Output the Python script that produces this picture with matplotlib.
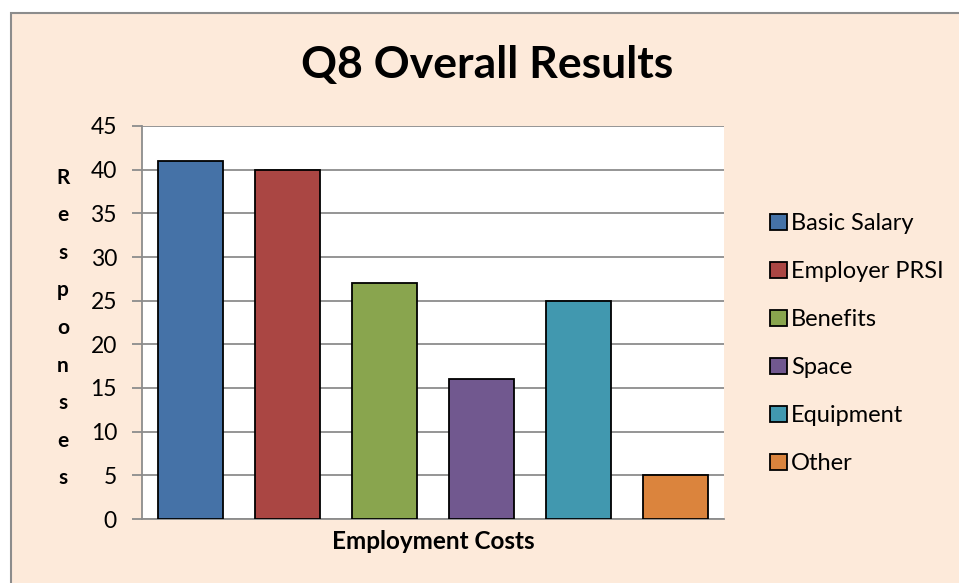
import matplotlib
matplotlib.use("Agg")
import matplotlib.pyplot as plt
from matplotlib.patches import Rectangle

categories = ["Basic Salary", "Employer PRSI", "Benefits", "Space", "Equipment", "Other"]
responses = [41, 40, 27, 16, 25, 5]
colors = ["#4572A7", "#AA4643", "#89A54E", "#71588F", "#4198AF", "#DB843D"]
yticks = [0, 5, 10, 15, 20, 25, 30, 35, 40, 45]

plt.rcParams["font.family"] = ["Lato", "DejaVu Sans"]

W, H = 959, 583
fig = plt.figure(figsize=(W / 100, H / 100), dpi=100)
fig.patch.set_facecolor("white")

# chart frame with peach fill
frame = Rectangle((11 / W, -0.1), 1.2, 1 - 13 / H + 0.1, transform=fig.transFigure,
                  facecolor="#FDEADA", edgecolor="#8C8C8C", linewidth=1.5, zorder=-10)
fig.patches.append(frame)

ax = fig.add_axes([142 / W, 1 - 519 / H, (724 - 142) / W, (519 - 126) / H])
ax.set_facecolor("white")

x = list(range(len(categories)))
bars = ax.bar(x, responses, width=0.67, color=colors, edgecolor="black",
              linewidth=1.3, zorder=3, label=categories)

ax.set_xlim(-0.5, len(categories) - 0.5)
ax.set_ylim(0, 45)
ax.set_yticks(yticks)
ax.set_yticklabels([str(v) for v in yticks], fontsize=16.5)
ax.set_xticks([])
ax.grid(axis="y", color="#8C8C8C", linewidth=1.3, zorder=0)
ax.tick_params(axis="y", length=7, width=1.3, color="#8C8C8C", pad=11)
for s in ["top", "right"]:
    ax.spines[s].set_visible(False)
for s in ["left", "bottom"]:
    ax.spines[s].set_color("#8C8C8C")
    ax.spines[s].set_linewidth(1.3)

ax.set_xlabel("Employment Costs", fontsize=17.5, fontweight="bold", labelpad=8)

fig.text(487 / W, 1 - 65 / H, "Q8 Overall Results", fontsize=32, fontweight="bold",
         ha="center", va="center")

fig.text(63 / W, 1 - 328 / H, "\n".join("Responses"), fontsize=15, fontweight="bold",
         ha="center", va="center", linespacing=2.1)

leg = ax.legend(handles=list(bars), labels=categories, loc="upper left",
                bbox_to_anchor=(761 / W, 1 - 204 / H), bbox_transform=fig.transFigure,
                frameon=False, fontsize=17, handlelength=0.68, handleheight=0.68,
                handletextpad=0.2, labelspacing=1.14, borderaxespad=0)

fig.savefig("out.png", dpi=100, facecolor=fig.get_facecolor())
